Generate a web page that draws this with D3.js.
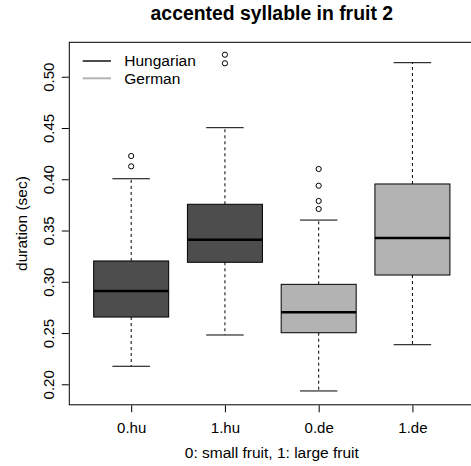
<!DOCTYPE html>
<html>
<head>
<meta charset="utf-8">
<script src="https://cdn.jsdelivr.net/npm/d3@7"></script>
<style>
	body { margin: 0; background: #fff; }
	svg { display: block; font-family: "Liberation Sans", Arial, sans-serif; }
</style>
</head>
<body>
<svg></svg>
<script>
// groups on the x axis
let categories = ['0.hu', '1.hu', '0.de', '1.de'];
let languages = ['Hungarian', 'Hungarian', 'German', 'German'];

// five number summaries
let lowerWhisker = [0.2176, 0.2481, 0.1935, 0.2386];
let q1 = [0.2656, 0.3190, 0.2503, 0.3066];
let medians = [0.2910, 0.3410, 0.2702, 0.3427];
let q3 = [0.3203, 0.3756, 0.2975, 0.3954];
let upperWhisker = [0.4005, 0.4503, 0.3602, 0.5137];
let outliers = [
	[0.4126, 0.4227],
	[0.5131, 0.5215],
	[0.3710, 0.3788, 0.3937, 0.4100],
	[]
];

let yTicks = [0.20, 0.25, 0.30, 0.35, 0.40, 0.45, 0.50];
let legendLabels = ['Hungarian', 'German'];
let colors = { Hungarian: '#4d4d4d', German: '#b3b3b3' };

let width = 471;
let height = 466;
let plot = { left: 69.3, right: 474.3, top: 42.3, bottom: 404.8 };

let svg = d3.select('svg')
	.attr('width', width)
	.attr('height', height);

let x = d3.scaleLinear()
	.domain([0.34, 4.66])
	.range([plot.left, plot.right]);

let y = d3.scaleLinear()
	.domain([0.18, 0.5336])
	.range([plot.bottom, plot.top]);

let boxHalf = (x(1.4) - x(1)) ;
let capHalf = boxHalf / 2;

let boxes = categories.map(function(c, i) {
	return {
		name: c, pos: i + 1, lang: languages[i],
		lo: lowerWhisker[i], q1: q1[i], med: medians[i], q3: q3[i], hi: upperWhisker[i],
		out: outliers[i]
	};
});

let g = svg.append('g').attr('class', 'boxGroup')
	.selectAll('g')
	.data(boxes)
	.enter()
	.append('g');

// dashed whiskers
g.append('line')
	.attr('x1', function(d) { return x(d.pos) })
	.attr('x2', function(d) { return x(d.pos) })
	.attr('y1', function(d) { return y(d.q3) })
	.attr('y2', function(d) { return y(d.hi) })
	.attr('stroke', '#000')
	.attr('stroke-dasharray', '3,3');

g.append('line')
	.attr('x1', function(d) { return x(d.pos) })
	.attr('x2', function(d) { return x(d.pos) })
	.attr('y1', function(d) { return y(d.q1) })
	.attr('y2', function(d) { return y(d.lo) })
	.attr('stroke', '#000')
	.attr('stroke-dasharray', '3,3');

// staples
['hi', 'lo'].forEach(function(k) {
	g.append('line')
		.attr('x1', function(d) { return x(d.pos) - capHalf })
		.attr('x2', function(d) { return x(d.pos) + capHalf })
		.attr('y1', function(d) { return y(d[k]) })
		.attr('y2', function(d) { return y(d[k]) })
		.attr('stroke', '#000');
});

g.append('rect')
	.attr('x', function(d) { return x(d.pos) - boxHalf })
	.attr('width', boxHalf * 2)
	.attr('y', function(d) { return y(d.q3) })
	.attr('height', function(d) { return y(d.q1) - y(d.q3) })
	.attr('fill', function(d) { return colors[d.lang] })
	.attr('stroke', '#000');

g.append('line')
	.attr('x1', function(d) { return x(d.pos) - boxHalf })
	.attr('x2', function(d) { return x(d.pos) + boxHalf })
	.attr('y1', function(d) { return y(d.med) })
	.attr('y2', function(d) { return y(d.med) })
	.attr('stroke', '#000')
	.attr('stroke-width', 2.5);

g.selectAll('circle')
	.data(function(d) { return d.out.map(function(v) { return { pos: d.pos, v: v } }) })
	.enter()
	.append('circle')
	.attr('cx', function(d) { return x(d.pos) })
	.attr('cy', function(d) { return y(d.v) })
	.attr('r', 2.6)
	.attr('fill', 'none')
	.attr('stroke', '#000');

// frame
svg.append('rect')
	.attr('x', plot.left)
	.attr('y', plot.top)
	.attr('width', plot.right - plot.left)
	.attr('height', plot.bottom - plot.top)
	.attr('fill', 'none')
	.attr('stroke', '#000');

// y axis
let yAxis = d3.axisLeft(y)
	.tickValues(yTicks)
	.tickSize(7)
	.tickFormat(d3.format('.2f'));

let ya = svg.append('g')
	.attr('transform', 'translate(' + (plot.left - 0.5) + ',0)')
	.call(yAxis);
ya.select('.domain').remove();
ya.selectAll('line').attr('stroke', '#000');
ya.selectAll('text')
	.attr('font-size', 15)
	.attr('fill', '#000')
	.attr('x', 0)
	.attr('dy', 0)
	.attr('text-anchor', 'middle')
	.attr('transform', 'translate(-14.4,0) rotate(-90)');

// x axis
let xAxis = d3.axisBottom(x)
	.tickValues([1, 2, 3, 4])
	.tickSize(7)
	.tickFormat(function(d) { return categories[d - 1] });

let xa = svg.append('g')
	.attr('transform', 'translate(0,' + (plot.bottom + 0.5) + ')')
	.call(xAxis);
xa.select('.domain').remove();
xa.selectAll('line').attr('stroke', '#000');
xa.selectAll('text')
	.attr('font-size', 15)
	.attr('fill', '#000')
	.attr('y', 17)
	.attr('dy', '0.71em');

// titles
svg.append('text')
	.attr('x', (plot.left + plot.right) / 2)
	.attr('y', 20)
	.attr('text-anchor', 'middle')
	.attr('font-size', 19.4)
	.attr('font-weight', 'bold')
	.text('accented syllable in fruit 2');

svg.append('text')
	.attr('x', (plot.left + plot.right) / 2)
	.attr('y', 458)
	.attr('text-anchor', 'middle')
	.attr('font-size', 15.5)
	.text('0: small fruit, 1: large fruit');

svg.append('text')
	.attr('transform', 'translate(27,' + ((plot.top + plot.bottom) / 2) + ') rotate(-90)')
	.attr('text-anchor', 'middle')
	.attr('font-size', 15.5)
	.text('duration (sec)');

// legend
let legend = svg.append('g')
	.selectAll('g')
	.data(legendLabels)
	.enter()
	.append('g')
	.attr('transform', function(d, i) { return 'translate(0,' + (61 + i * 17.3) + ')' });

legend.append('line')
	.attr('x1', 82.7)
	.attr('x2', 111)
	.attr('stroke', function(d) { return colors[d] })
	.attr('stroke-width', 2);

legend.append('text')
	.attr('x', 124.3)
	.attr('dy', '0.35em')
	.attr('font-size', 15.5)
	.text(function(d) { return d });
</script>
</body>
</html>
